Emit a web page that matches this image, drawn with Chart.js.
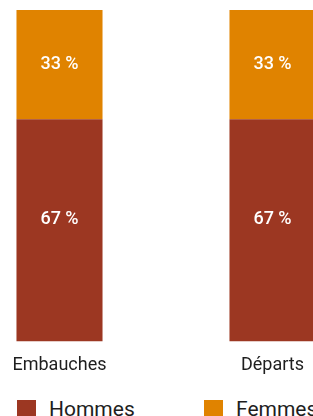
<!DOCTYPE html>
<html>
<head>
<meta charset="utf-8">
<script src="https://cdn.jsdelivr.net/npm/chart.js@4/dist/chart.umd.min.js"></script>
<style>
  html, body { margin: 0; padding: 0; background: #fff; }
  body { width: 313px; height: 416px; overflow: hidden; position: relative; font-family: Roboto, sans-serif; }
  #wrap { position: absolute; left: -47px; top: 0; width: 426px; height: 389px; }
  .leg { position: absolute; top: 400px; display: flex; align-items: center; font-size: 21px; line-height: 19px; color: #1e1e1e; white-space: nowrap; }
  .leg span.box { display: inline-block; width: 19px; height: 19px; margin-right: 13px; }
</style>
</head>
<body>
<div id="wrap"><canvas id="chart"></canvas></div>
<div class="leg" style="left:17px"><span class="box" style="background:#9c3722"></span>Hommes</div>
<div class="leg" style="left:204px"><span class="box" style="background:#e08300"></span>Femmes</div>
<script>
document.addEventListener('DOMContentLoaded', () => {
    const categories = ['Embauches', 'Départs']
    const hommes = [67, 67]
    const femmes = [33, 33]

    const rouge = '#9c3722'
    const orange = '#e08300'

    // pourcentages en blanc au milieu des barres
    const etiquettes = {
        id: 'etiquettes',
        afterDatasetsDraw(chart) {
            const ctx = chart.ctx
            ctx.save()
            ctx.fillStyle = '#fff'
            ctx.font = '500 18px Roboto'
            ctx.textAlign = 'center'
            ctx.textBaseline = 'middle'
            chart.data.datasets.forEach((ds, i) => {
                chart.getDatasetMeta(i).data.forEach((bar, j) => {
                    const y = (bar.y + bar.base) / 2 + (ds.decalage || 0)
                    ctx.fillText(ds.data[j] + ' %', bar.x, y)
                })
            })
            ctx.restore()
        }
    }

    new Chart(document.querySelector('#chart'), {
        type: 'bar',
        data: {
            labels: categories,
            datasets: [
                { label: 'Hommes', data: hommes, backgroundColor: rouge, decalage: -11 },
                { label: 'Femmes', data: femmes, backgroundColor: orange }
            ]
        },
        options: {
            responsive: true,
            maintainAspectRatio: false,
            animation: false,
            layout: { padding: { top: 10, left: 0, right: 0, bottom: 0 } },
            datasets: { bar: { barPercentage: 0.404, categoryPercentage: 1 } },
            plugins: { legend: { display: false }, tooltip: { enabled: false } },
            scales: {
                x: {
                    stacked: true,
                    grid: { display: false, drawTicks: false },
                    border: { display: false },
                    ticks: { color: '#1e1e1e', font: { family: 'Roboto', size: 18 }, padding: 13 }
                },
                y: { stacked: true, display: false, min: 0, max: 100 }
            }
        },
        plugins: [etiquettes]
    })
})
</script>
</body>
</html>
